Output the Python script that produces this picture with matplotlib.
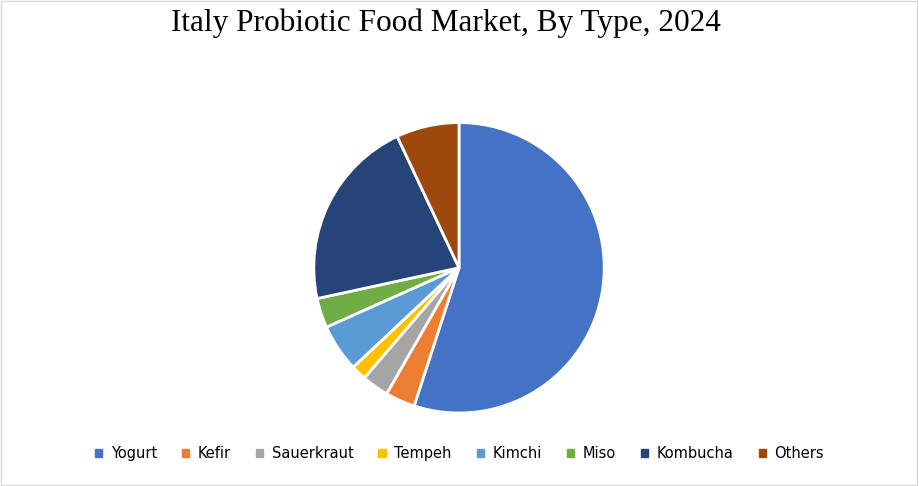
import matplotlib
matplotlib.use("Agg")
import matplotlib.pyplot as plt
from matplotlib.patches import Rectangle

categories = ["Yogurt", "Kefir", "Sauerkraut", "Tempeh", "Kimchi", "Miso", "Kombucha", "Others"]
values = [55.0, 3.3, 3.0, 1.7, 5.3, 3.3, 21.4, 7.0]
colors = ["#4472C4", "#ED7D31", "#A5A5A5", "#FFC000", "#5B9BD5", "#70AD47", "#264478", "#9E480E"]

fig = plt.figure(figsize=(9.19, 4.86), dpi=100)
fig.patches.append(Rectangle((0.001, 0.002), 0.997, 0.996, transform=fig.transFigure,
                             fill=False, edgecolor="#D9D9D9", linewidth=1))
h = 363 / 486
w = 363 / 919
ax = fig.add_axes([459 / 919 - w / 2, 0.449 - h / 2, w, h])
ax.pie(values, colors=colors, startangle=90, counterclock=False,
       wedgeprops=dict(edgecolor="white", linewidth=2))
ax.set_aspect("equal")
fig.text(0.485, 0.952, "Italy Probiotic Food Market, By Type, 2024", ha="center", va="center",
         fontsize=22.5, family="Liberation Serif")
handles = [Rectangle((0, 0), 1, 1, color=c) for c in colors]
fig.legend(handles, categories, loc="center", bbox_to_anchor=(0.5, 0.066), ncol=8,
           frameon=False, fontsize=10.5, handlelength=0.5, handleheight=0.5,
           handletextpad=0.6, columnspacing=1.7)
fig.savefig("out.png", dpi=100)
